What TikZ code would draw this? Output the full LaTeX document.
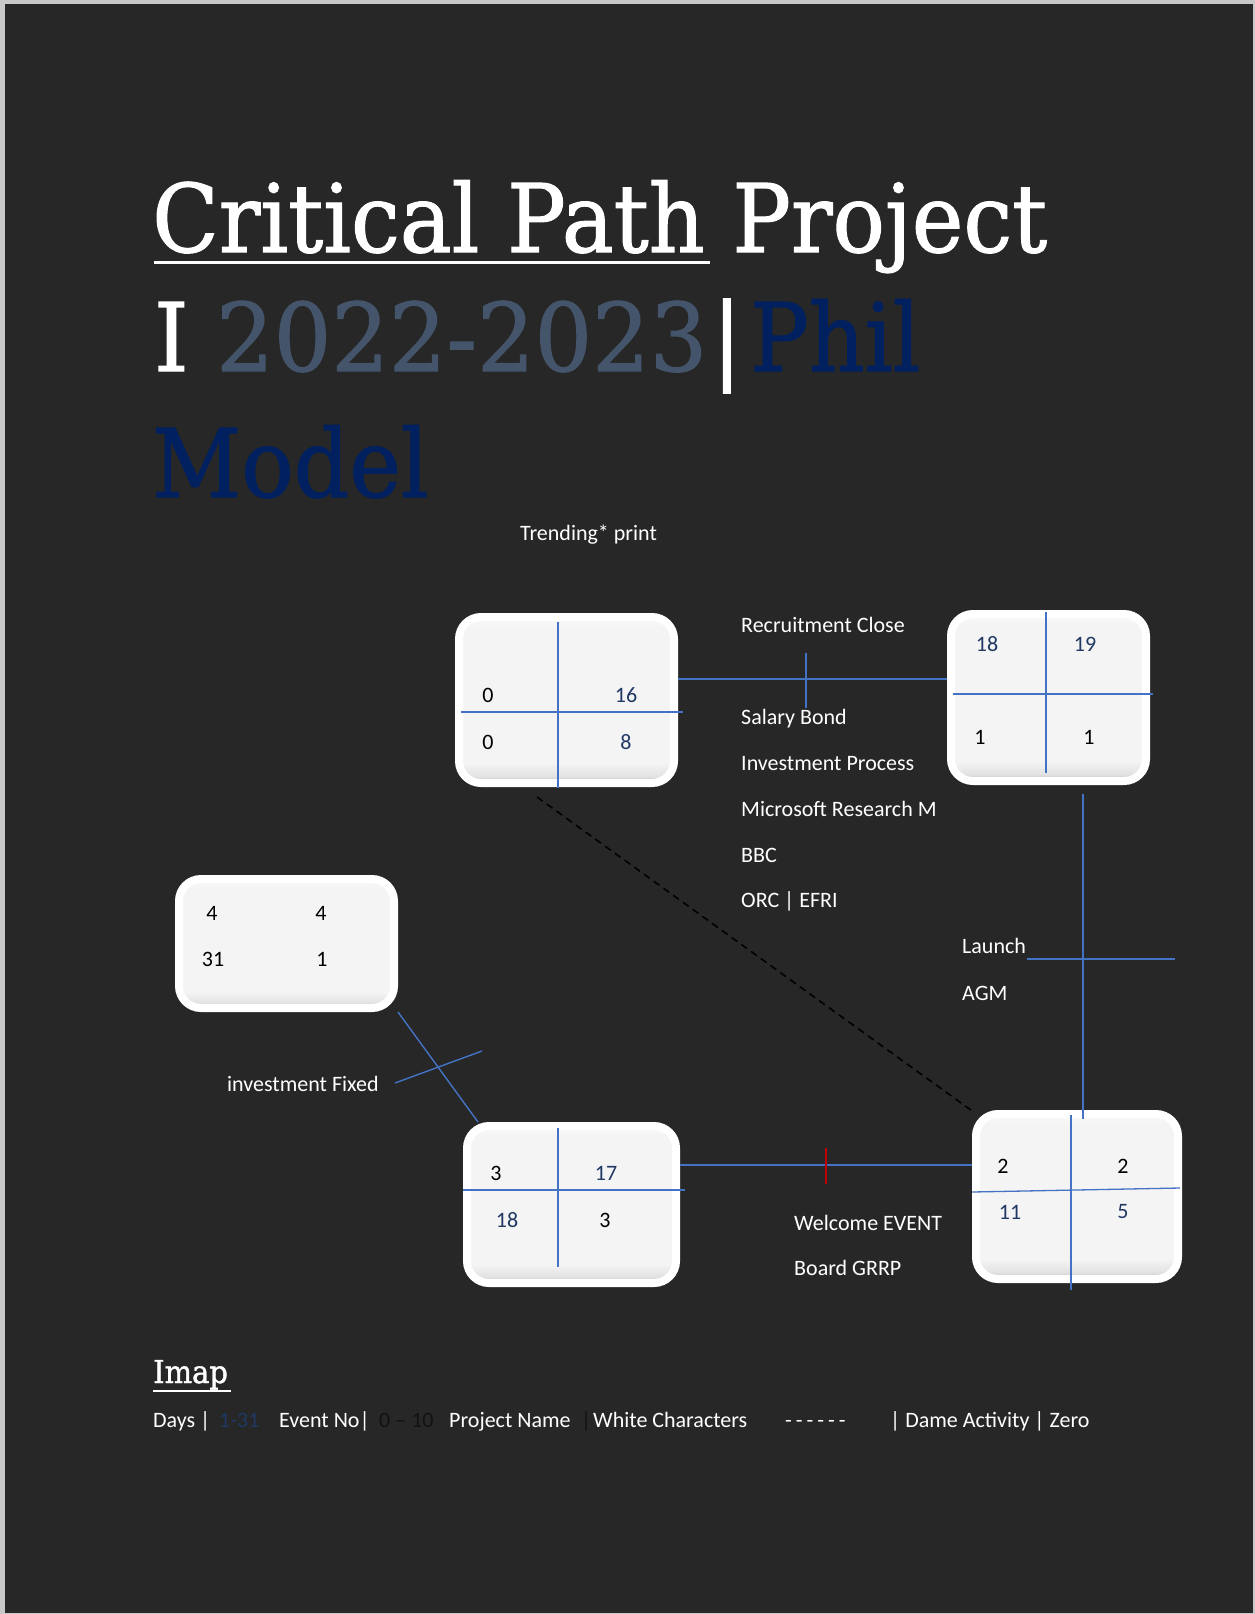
\documentclass[tikz,border=0pt]{standalone}
\usepackage{fontspec}
\setmainfont{Carlito}
\newfontfamily\titlefont[FakeStretch=0.92,FakeBold=1.2]{DejaVu Serif}
\definecolor{bg}{HTML}{272727}
\definecolor{pagegray}{HTML}{C8C8C8}
\definecolor{lnblue}{HTML}{4472C4}
\definecolor{navy}{HTML}{1F3864}
\definecolor{titlenavy}{HTML}{002060}
\definecolor{yeargray}{HTML}{44546A}
\definecolor{tickred}{HTML}{C00000}
\definecolor{nearblack}{HTML}{121212}
\definecolor{bxD}{HTML}{BEBEBE}
\definecolor{bxM}{HTML}{E2E2E2}
\definecolor{bxL}{HTML}{F4F4F4}
\definecolor{bxT}{HTML}{FBFBFB}
\pgfdeclareverticalshading{boxshade}{100bp}{color(0bp)=(bxD); color(25bp)=(bxD); color(27bp)=(bxM); color(31bp)=(bxL); color(72bp)=(bxL); color(75bp)=(bxT); color(100bp)=(bxT)}
\newcommand\bodyfs{\fontsize{22}{26}\selectfont}
\newcommand\titlefs{\titlefont\fontsize{94.6}{110}\selectfont}
\newcommand\dgap{\kern4pt}
\tikzset{
  evbox/.style={draw=white, line width=8pt, rounded corners=22pt, shade, shading=boxshade, inner sep=0pt},
  cross/.style={lnblue, line width=1.3pt},
  conn/.style={lnblue, line width=1.4pt},
  lbl/.style={text=white, font=\bodyfs, inner sep=0pt, anchor=base west},
  num/.style={font=\bodyfs, inner sep=0pt, anchor=center},
  ttl/.style={font=\titlefs, inner sep=0pt, anchor=base west},
}
\begin{document}
\begin{tikzpicture}[x=1pt,y=-1pt]
\useasboundingbox (0,0) rectangle (1255,1614);
\fill[pagegray] (0,0) rectangle (1255,1614);
\fill[bg] (5,4) rectangle (1253,1613);

% title
\node[ttl, text=white] (t1) at (152,252) {Critical Path Project};
\draw[white, line width=3pt] (154,262) -- (710,262);
\node[ttl, text=white] (t2a) at (154,371) {I};
\node[ttl, text=yeargray] (t2b) at (216,371) {\scalebox{1.04}[1]{2022-2023}};
\node[ttl, text=white] (t2c) at (712,371) {|};
\node[ttl, text=titlenavy] (t2d) at (750,371) {Phil};
\node[ttl, text=titlenavy] (t3) at (152,497) {Model};

% boxes
\node[evbox, minimum width=215pt, minimum height=166pt] (A) at (566.5,700) {};
\node[evbox, minimum width=195pt, minimum height=167pt] (B) at (1048.5,697.5) {};
\node[evbox, minimum width=215pt, minimum height=129pt] (C) at (286.5,943.5) {};
\node[evbox, minimum width=209pt, minimum height=157pt] (D) at (571.5,1204.5) {};
\node[evbox, minimum width=202pt, minimum height=165pt] (E) at (1077,1196.5) {};

% inner crosses
\draw[cross] (558,622) -- (558,788);
\draw[cross] (461,712) -- (683,712);
\draw[cross] (1046,612) -- (1046,773);
\draw[cross] (953,694) -- (1153,694);
\draw[cross] (558,1128) -- (558,1267);
\draw[cross] (463,1190) -- (685,1190);
\draw[cross] (1071,1115) -- (1071,1290);
\draw[cross] (972,1192) -- (1180,1188);

% box numbers
\node[num, text=black] (a1) at (488,695) {0};
\node[num, text=navy] (a2) at (626,695) {16};
\node[num, text=black] (a3) at (488,742) {0};
\node[num, text=navy] (a4) at (626,742) {8};

\node[num, text=navy] (b1) at (987,644) {18};
\node[num, text=navy] (b2) at (1085,644) {19};
\node[num, text=black] (b3) at (980,737) {1};
\node[num, text=black] (b4) at (1089,737) {1};

\node[num, text=black] (c1) at (212,913) {4};
\node[num, text=black] (c2) at (321,913) {4};
\node[num, text=black] (c3) at (213,959) {31};
\node[num, text=black] (c4) at (322,959) {1};

\node[num, text=black] (d1) at (496,1173) {3};
\node[num, text=navy] (d2) at (606,1173) {17};
\node[num, text=navy] (d3) at (507,1220) {18};
\node[num, text=black] (d4) at (605,1220) {3};

\node[num, text=black] (e1) at (1003,1166) {2};
\node[num, text=black] (e2) at (1123,1166) {2};
\node[num, text=navy] (e3) at (1010,1212) {11};
\node[num, text=navy] (e4) at (1123,1212) {5};

% connectors
\draw[conn] ([yshift=21pt]A.east) -- ([yshift=21pt]A.east -| B.west);
\draw[conn] (806,653) -- (806,708);
\draw[conn] ([xshift=34.5pt,yshift=-9pt]B.south) -- ([xshift=34.5pt,yshift=-9pt]B.south |- E.north);
\draw[conn] (1027,959) -- (1175,959);
\draw[black, line width=1.6pt, dash pattern=on 7pt off 5pt] ([xshift=-29.5pt,yshift=-10pt]A.south) -- ([xshift=-102pt,yshift=-3pt]E.north);
\draw[conn] (C.south east) -- ([xshift=15pt]D.north west);
\draw[conn] (395,1083) -- (482,1051);
\draw[conn] ([yshift=39.5pt]D.east) -- ([yshift=39.5pt]D.east -| E.west);
\draw[tickred, line width=1.4pt] (826,1148) -- (826,1184);

% labels
\node[lbl] (l0) at (520,540) {Trending* print};
\node[lbl] (l1) at (741,632) {Recruitment Close};
\node[lbl] (l2) at (741,724) {Salary Bond};
\node[lbl] (l3) at (741,770) {Investment Process};
\node[lbl] (l4) at (741,816) {Microsoft Research M};
\node[lbl] (l5) at (741,862) {BBC};
\node[lbl] (l6) at (741,907) {ORC | EFRI};
\node[lbl] (l7) at (962,953) {Launch};
\node[lbl] (l8) at (962,1000) {AGM};
\node[lbl] (l9) at (227,1091) {investment Fixed};
\node[lbl] (l10) at (794,1230) {Welcome EVENT};
\node[lbl] (l11) at (794,1275) {Board GRRP};

% legend
\node[inner sep=0pt, anchor=base west, text=white, font=\titlefont\fontsize{31.5}{36}\selectfont] (imap) at (153,1383) {Imap};
\draw[white, line width=1.6pt] (153,1391) -- (231,1391);
\node[lbl] (g1) at (153,1427) {Days |};
\node[lbl, text=navy] (g2) at (219,1427) {1-31};
\node[lbl] (g3) at (279,1427) {Event No|};
\node[lbl, text=nearblack] (g4) at (379,1427) {0 – 10};
\node[lbl] (g5) at (449,1427) {Project Name};
\node[lbl, text=nearblack] (g6) at (581,1427) {|};
\node[lbl] (g7) at (593,1427) {White Characters};
\node[lbl] (g8) at (785,1427) {-\dgap-\dgap-\dgap-\dgap-\dgap-};
\node[lbl] (g9) at (890,1427) {| Dame Activity | Zero};
\end{tikzpicture}
\end{document}
